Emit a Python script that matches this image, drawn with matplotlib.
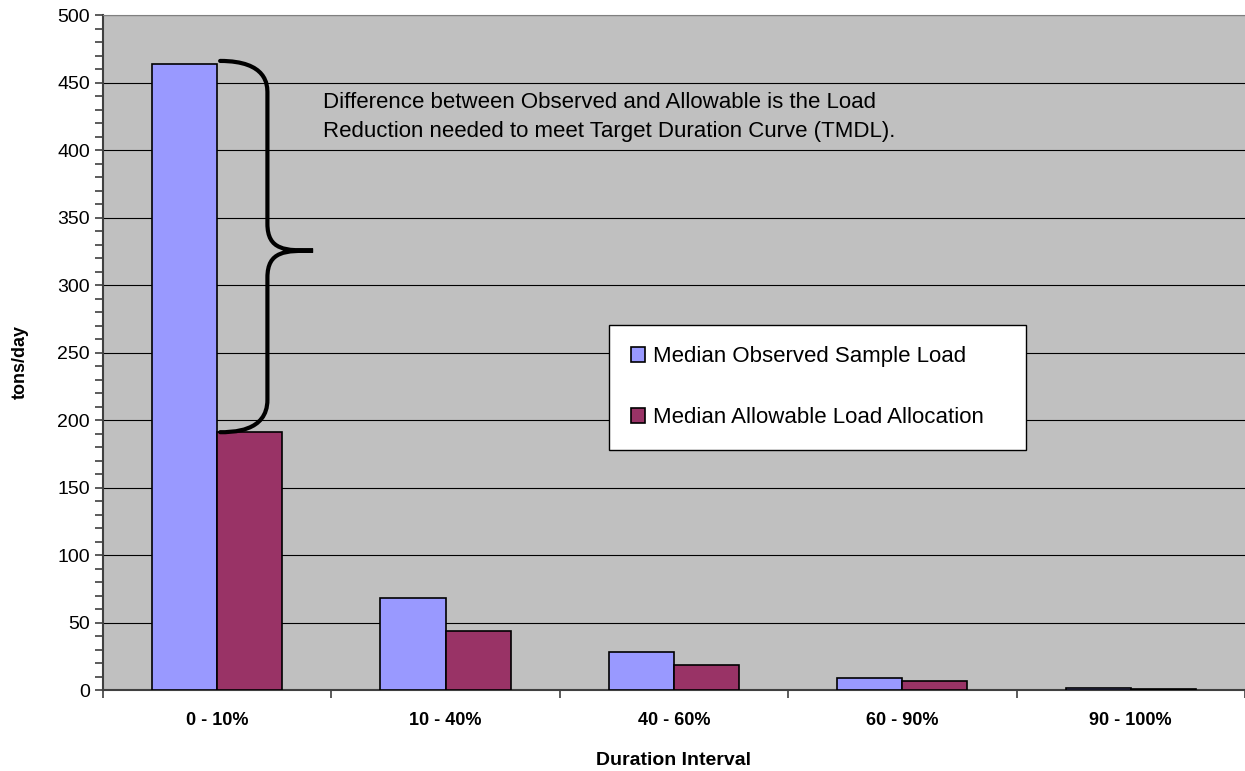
import numpy as np
import matplotlib
matplotlib.use("Agg")
import matplotlib.pyplot as plt
from matplotlib.path import Path
from matplotlib.patches import PathPatch
from matplotlib.ticker import MultipleLocator, FixedLocator, NullFormatter

plt.rcParams['font.family'] = ['Liberation Sans', 'DejaVu Sans']

intervals = ['0 - 10%', '10 - 40%', '40 - 60%', '60 - 90%', '90 - 100%']
observed = [464, 68, 28, 8.6, 1.5]
allowable = [191, 44, 18.5, 7, 0.8]
note = ("Difference between Observed and Allowable is the Load\n"
        "Reduction needed to meet Target Duration Curve (TMDL).")

fig = plt.figure(figsize=(12.45, 7.71), dpi=100)
ax = fig.add_axes([0.0827, 0.105, 0.9173, 0.8755])
ax.set_facecolor('#C0C0C0')

x = np.arange(len(intervals))
w = 0.285
ax.bar(x - w / 2, observed, w, color='#9999FF', edgecolor='black', lw=1.2,
       label='Median Observed Sample Load', zorder=3)
ax.bar(x + w / 2, allowable, w, color='#993366', edgecolor='black', lw=1.2,
       label='Median Allowable Load Allocation', zorder=3)

ax.set_xlim(-0.5, len(intervals) - 0.5)
ax.set_ylim(0, 500)
ax.yaxis.set_major_locator(MultipleLocator(50))
ax.yaxis.set_minor_locator(MultipleLocator(10))
ax.grid(axis='y', which='major', color='black', lw=0.8, zorder=1)
ax.set_xticks(x)
ax.set_xticklabels(intervals, fontsize=13, fontweight='bold')
ax.xaxis.set_minor_locator(FixedLocator(np.arange(-0.5, len(intervals), 1.0)))
ax.xaxis.set_minor_formatter(NullFormatter())
ax.tick_params(axis='x', which='major', length=0, pad=16)
ax.tick_params(axis='x', which='minor', length=6, width=1.2, color='#404040')
ax.tick_params(axis='y', which='both', length=6, width=1.2, color='#404040',
               labelsize=14)
for s in ['left', 'bottom']:
    ax.spines[s].set_color('#404040')
    ax.spines[s].set_linewidth(1.5)
ax.spines['top'].set_color('#808080')
ax.spines['right'].set_visible(False)

ax.set_ylabel('tons/day', fontsize=13, fontweight='bold', va='center')
ax.yaxis.set_label_coords(-0.0727, 0.486)
ax.set_xlabel('Duration Interval', fontsize=14, fontweight='bold', va='center')
ax.xaxis.set_label_coords(0.5, -0.1037)

# curly brace spanning observed and allowable heights for the first group
top, bot = observed[0] + 2, allowable[0]
mid = (top + bot) / 2 - 3
xs, xv, xt = 0.013, 0.22, 0.42
verts = [(xs, top), (xv, top), (xv, top - 18), (xv, top - 24),
         (xv, mid + 20),
         (xv, mid), (xt - 0.12, mid), (xt, mid),
         (xt - 0.12, mid), (xv, mid), (xv, mid - 20),
         (xv, bot + 24),
         (xv, bot), (xs + 0.05, bot), (xs, bot)]
codes = [Path.MOVETO, Path.CURVE4, Path.CURVE4, Path.CURVE4,
         Path.LINETO,
         Path.CURVE4, Path.CURVE4, Path.CURVE4,
         Path.CURVE4, Path.CURVE4, Path.CURVE4,
         Path.LINETO,
         Path.CURVE4, Path.CURVE4, Path.CURVE4]
ax.add_patch(PathPatch(Path(verts, codes), fill=False, lw=3, color='black',
                       capstyle='round', zorder=4))

ax.text(0.465, 443, note, fontsize=16, va='top', ha='left', linespacing=1.5,
        zorder=5)

leg = ax.legend(loc='upper left', bbox_to_anchor=(0.443, 0.3615, 0.365, 0.18),
                mode='expand', fontsize=16,
                frameon=True, fancybox=False, framealpha=1, edgecolor='black',
                handlelength=0.65, handleheight=0.6, handletextpad=0.35,
                labelspacing=1.8, borderpad=0.98, borderaxespad=0)
leg.get_frame().set_linewidth(1.0)

fig.savefig('out.png', dpi=100)
